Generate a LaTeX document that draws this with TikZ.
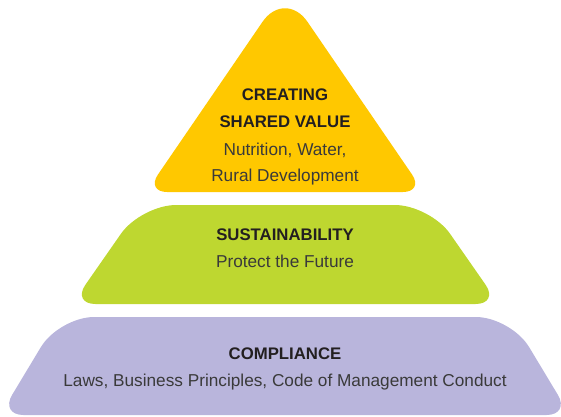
\documentclass[tikz,border=0pt]{standalone}
\usepackage{fontspec}
\setmainfont{Liberation Sans}

\definecolor{csvyellow}{RGB}{255,200,0}
\definecolor{sustgreen}{RGB}{190,215,48}
\definecolor{complpurple}{RGB}{185,181,220}
\definecolor{titleink}{RGB}{35,31,32}
\definecolor{bodyink}{RGB}{58,58,58}

\tikzset{
  tiertitle/.style={font=\fontsize{14.3}{23.2}\selectfont\bfseries, text=titleink, align=center, inner sep=0pt},
  tierbody/.style={font=\fontsize{14.7}{21.5}\selectfont, text=bodyink, align=center, inner sep=0pt}
}

\begin{document}
\begin{tikzpicture}[x=0.03cm, y=-0.03cm]
\useasboundingbox (0, 0) rectangle (561, 416);

\fill [csvyellow, rounded corners=18] (146, 192) [rounded corners=34] -- (285, -11) [rounded corners=18] -- (424, 192) -- cycle;
\node [tiertitle] (csvtitle) at (285, 108.5) {CREATING\\SHARED VALUE};
\node [tierbody] (csvbody) at (285, 164) {Nutrition, Water,\\Rural Development};

\fill [sustgreen, rounded corners=20] (72, 304) [rounded corners=30] -- (141, 205) -- (430, 205) [rounded corners=20] -- (499, 304) -- cycle;
\node [tiertitle] (susttitle) at (285, 235) {SUSTAINABILITY};
\node [tierbody] (sustbody) at (285, 261.5) {Protect the Future};

\fill [complpurple, rounded corners=20] (0, 415) [rounded corners=30] -- (59, 317) -- (511, 317) [rounded corners=20] -- (570, 415) -- cycle;
\node [tiertitle] (compltitle) at (285, 354) {COMPLIANCE};
\node [tierbody] (complbody) at (285, 382.5) {Laws, Business Principles, Code of Management Conduct};
\end{tikzpicture}
\end{document}
